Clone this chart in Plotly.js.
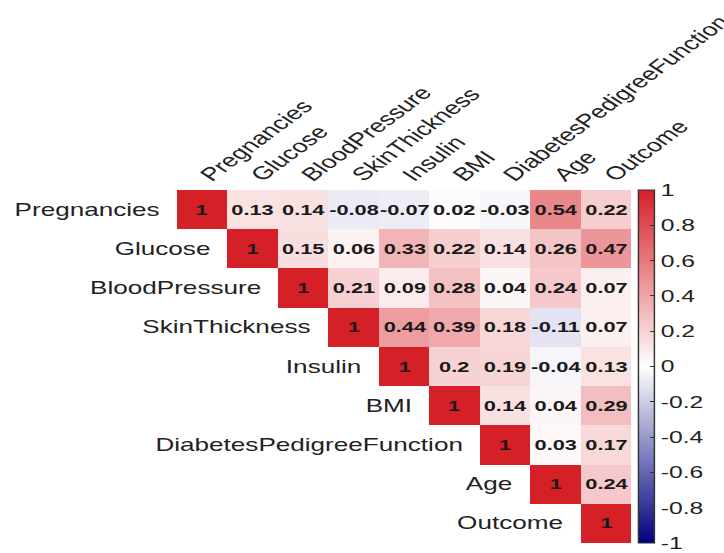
<!DOCTYPE html>
<html>
<head>
<meta charset="utf-8">
<script src="https://cdn.plot.ly/plotly-3.0.1.min.js"></script>
<style>
  html, body { margin: 0; padding: 0; background: #fff; overflow: hidden; }
  #wrap { width: 724px; height: 553px; overflow: hidden; }
  /* the correlation plot is laid out narrow and widened horizontally */
  #chart { width: 499px; height: 553px; transform: scaleX(1.451); transform-origin: 0 0; }
</style>
</head>
<body>
<div id="wrap"><div id="chart"></div></div>
<script>
// Variables of the Pima diabetes data set
const variables = ["Pregnancies", "Glucose", "BloodPressure", "SkinThickness", "Insulin",
                   "BMI", "DiabetesPedigreeFunction", "Age", "Outcome"];

// Upper triangle of the correlation matrix, one row per variable,
// starting at the diagonal
const rowPregnancies   = [1, 0.13, 0.14, -0.08, -0.07, 0.02, -0.03, 0.54, 0.22];
const rowGlucose       = [1, 0.15, 0.06, 0.33, 0.22, 0.14, 0.26, 0.47];
const rowBloodPressure = [1, 0.21, 0.09, 0.28, 0.04, 0.24, 0.07];
const rowSkinThickness = [1, 0.44, 0.39, 0.18, -0.11, 0.07];
const rowInsulin       = [1, 0.2, 0.19, -0.04, 0.13];
const rowBMI           = [1, 0.14, 0.04, 0.29];
const rowDPF           = [1, 0.03, 0.17];
const rowAge           = [1, 0.24];
const rowOutcome       = [1];

const colorbarTicks  = [1, 0.8, 0.6, 0.4, 0.2, 0, -0.2, -0.4, -0.6, -0.8, -1];
const colorbarLabels = ["1", "0.8", "0.6", "0.4", "0.2", "0", "-0.2", "-0.4", "-0.6", "-0.8", "-1"];

const upperRows = [rowPregnancies, rowGlucose, rowBloodPressure, rowSkinThickness,
                   rowInsulin, rowBMI, rowDPF, rowAge, rowOutcome];

// Full matrix with the lower triangle left empty
const z = upperRows.map((vals, i) => new Array(i).fill(null).concat(vals));
// Cell labels written from the same coefficients (plain hyphen for negatives)
const cellText = z.map(row => row.map(v => (v === null ? "" : String(v))));

const font = "Liberation Sans, Arial, sans-serif";

const trace = {
  type: "heatmap",
  x: variables,
  y: variables,
  z: z,
  text: cellText,
  zmin: -1,
  zmax: 1,
  colorscale: [[0, "#00007F"], [0.5, "#FFFFFF"], [1, "#D62027"]],
  texttemplate: "%{text}",
  textfont: { family: font, size: 15, color: "#1a1a1a", weight: "bold" },
  hoverongaps: false,
  hoverinfo: "skip",
  xgap: 0,
  ygap: 0,
  colorbar: {
    x: 1.016,
    xanchor: "left",
    y: 0.5,
    yanchor: "middle",
    len: 1,
    lenmode: "fraction",
    ypad: 0,
    xpad: 0,
    thickness: 11,
    outlinewidth: 1,
    outlinecolor: "#333",
    tickmode: "array",
    tickvals: colorbarTicks,
    ticktext: colorbarLabels,
    ticks: "inside",
    ticklen: 3,
    tickcolor: "#333",
    tickfont: { family: font, size: 17, color: "#222" }
  }
};

// Row names sit just left of each diagonal cell
const rowLabels = variables.map((name, i) => ({
  x: i - 0.5,
  y: i,
  xref: "x",
  yref: "y",
  text: name,
  showarrow: false,
  xanchor: "right",
  yanchor: "middle",
  xshift: -10,
  font: { family: font, size: 18, color: "#222" }
}));

const layout = {
  width: 499,
  height: 553,
  margin: { l: 122, r: 64, t: 190, b: 10, pad: 0 },
  paper_bgcolor: "#fff",
  plot_bgcolor: "#fff",
  xaxis: {
    side: "top",
    tickangle: -47,
    showgrid: false,
    zeroline: false,
    showline: false,
    ticks: "",
    tickfont: { family: font, size: 18.5, color: "#222" },
    range: [-0.5, 8.5]
  },
  yaxis: {
    autorange: "reversed",
    showgrid: false,
    zeroline: false,
    showline: false,
    showticklabels: false,
    ticks: ""
  },
  annotations: rowLabels,
  showlegend: false
};

Plotly.newPlot("chart", [trace], layout, { displayModeBar: false, staticPlot: true });
</script>
</body>
</html>
